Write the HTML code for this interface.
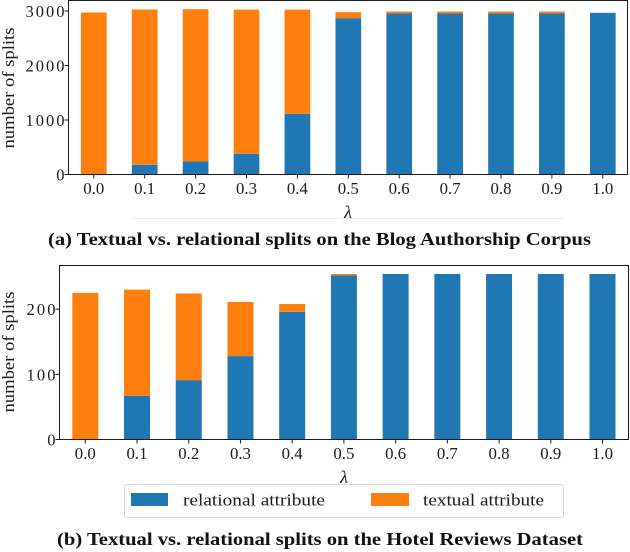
<!DOCTYPE html>
<html lang="en">
<head>
<meta charset="utf-8">
<title>Textual vs. relational splits</title>
<style>
html,body{margin:0;padding:0;background:#fff;width:630px;height:552px;overflow:hidden}
svg{display:block;font-family:"Liberation Serif",serif;fill:#1a1a1a}
</style>
</head>
<body>
<svg id="figure" xmlns="http://www.w3.org/2000/svg" width="630" height="552" viewBox="0 0 630 552">
  <g id="chart-a"></g>
  <line x1="132" y1="218.5" x2="565" y2="218.5" stroke="#eeeeee" stroke-width="1"/>
  <text x="48" y="245" font-size="18" font-weight="bold" textLength="543" lengthAdjust="spacingAndGlyphs" fill="#111">(a) Textual vs. relational splits on the Blog Authorship Corpus</text>
  <g id="chart-b"></g>
  <g>
    <rect x="124.5" y="484.5" width="439" height="33" rx="2.5" fill="#fff" stroke="#d9d9d9" stroke-width="1"/>
    <rect x="131" y="493" width="37" height="13" fill="#1f77b4"/>
    <text x="183" y="505.5" font-size="17" textLength="142" lengthAdjust="spacingAndGlyphs">relational attribute</text>
    <rect x="371" y="493" width="38" height="13" fill="#ff7f0e"/>
    <text x="423" y="505.5" font-size="17" textLength="121" lengthAdjust="spacingAndGlyphs">textual attribute</text>
  </g>
  <text x="57" y="545" font-size="18" font-weight="bold" textLength="526" lengthAdjust="spacingAndGlyphs" fill="#111">(b) Textual vs. relational splits on the Hotel Reviews Dataset</text>
</svg>
<script>
var categories = ["0.0","0.1","0.2","0.3","0.4","0.5","0.6","0.7","0.8","0.9","1.0"];
var blogRelational = [0,178,238,380,1113,2868,2954,2954,2954,2954,2967];
var blogTextual = [2972,2849,2795,2645,1912,110,36,36,36,36,0];
var blogTicks = [0,1000,2000,3000];
var hotelRelational = [0,67,91,128,196,252,254,254,254,254,254];
var hotelTextual = [225,163,133,83,12,2,0,0,0,0,0];
var hotelTicks = [0,100,200];

var NS = "http://www.w3.org/2000/svg";

function make(parent, tag, attrs, text) {
  var el = document.createElementNS(NS, tag);
  for (var k in attrs) el.setAttribute(k, attrs[k]);
  if (text !== undefined) el.textContent = text;
  parent.appendChild(el);
  return el;
}

function drawChart(root, o) {
  var yScale = function (v) { return o.y0 - v * o.yUnit; };
  var xScale = function (i) { return o.x0 + i * o.xStep; };

  o.relational.forEach(function (v, i) {
    var x = xScale(i) - o.barW / 2;
    var rel = make(root, "rect", {x: x, y: yScale(v), width: o.barW, height: Math.max(0, o.y0 - yScale(v)), fill: "#1f77b4"});
    
    
    var t = o.textual[i];
    var txt = make(root, "rect", {x: x, y: yScale(v + t), width: o.barW, height: Math.max(0, yScale(v) - yScale(v + t)), fill: "#ff7f0e"});
    
    
  });

  var frame = make(root, "rect", {x: o.left, y: o.top, width: o.right - o.left, height: o.y0 - o.top, fill: "none", stroke: "#1a1a1a", "stroke-width": 1});
  
  

  categories.forEach(function (c, i) {
    var tick = make(root, "line", {x1: xScale(i), x2: xScale(i), y1: o.y0, y2: o.y0 + 4, stroke: "#1a1a1a", "stroke-width": 1});
    
    
    var label = make(root, "text", {x: xScale(i), y: o.y0 + 19.5, "font-size": 16.5, "text-anchor": "middle", textLength: 21, lengthAdjust: "spacingAndGlyphs"}, c);
    
    
  });

  o.ticks.forEach(function (v) {
    var s = String(v);
    var tick = make(root, "line", {x1: o.left - 4, x2: o.left, y1: yScale(v), y2: yScale(v), stroke: "#1a1a1a", "stroke-width": 1});
    
    
    var label = make(root, "text", {x: o.left - 4, y: yScale(v) + 6, "font-size": 16.5, "text-anchor": "end", textLength: s.length * 10 - 1, lengthAdjust: "spacing"}, s);
    
    
  });

  var yTitle = make(root, "text", {x: 0, y: 0, "font-size": 17, "text-anchor": "middle", textLength: 121, lengthAdjust: "spacingAndGlyphs", transform: "translate(14," + o.titleY + ") rotate(-90)"}, "number of splits");
  
  

  var xTitle = make(root, "text", {x: o.lambdaX, y: o.lambdaY, "font-size": 18, "font-style": "italic", "text-anchor": "middle"}, "\u03BB");
  
  
}

drawChart(document.getElementById("chart-a"), {
  relational: blogRelational, textual: blogTextual, ticks: blogTicks,
  left: 68.5, right: 627.5, top: 0.5, y0: 174.5, yUnit: 0.0545,
  x0: 93.8, xStep: 50.9, barW: 25.7, titleY: 88, lambdaX: 348, lambdaY: 218
});
drawChart(document.getElementById("chart-b"), {
  relational: hotelRelational, textual: hotelTextual, ticks: hotelTicks,
  left: 59.5, right: 628.5, top: 265.5, y0: 439.5, yUnit: 0.6517,
  x0: 85.3, xStep: 51.72, barW: 26, titleY: 352, lambdaX: 344, lambdaY: 483
});
</script>
</body>
</html>
